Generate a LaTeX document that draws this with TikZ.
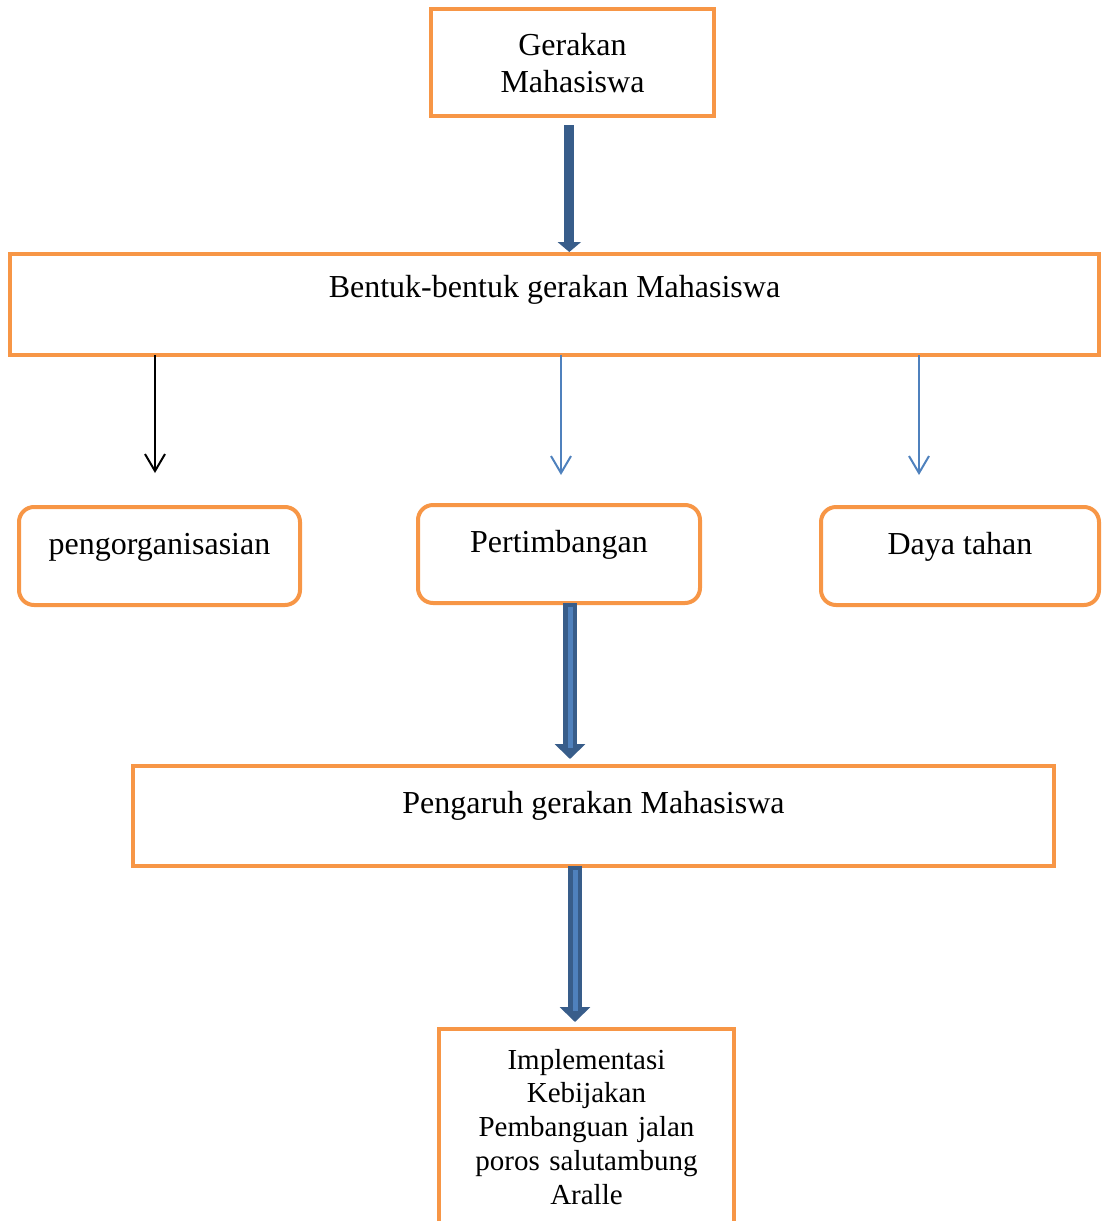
\documentclass[tikz,border=0pt]{standalone}
\usepackage{fontspec}
\setmainfont{Liberation Serif}
\usetikzlibrary{arrows.meta,calc}
\definecolor{orng}{HTML}{F79646}
\definecolor{dkblue}{HTML}{385D8A}
\definecolor{ltblue}{HTML}{4F81BD}
\begin{document}
\begin{tikzpicture}[x=1pt,y=-1pt,
  box/.style={draw=orng, line width=4pt, inner sep=0pt, outer sep=0pt, anchor=north west,
    font=\fontsize{32}{37.7}\selectfont, align=center},
  rbox/.style={box, rounded corners=15pt},
  thinarrow/.style={line width=2pt, -{Straight Barb[length=17pt,width=20pt]}},
  fatarrow/.style={dkblue, line width=14.7pt, -{Triangle[length=15pt,width=30pt]}},
  stripe/.style={ltblue, line width=5pt}]
\useasboundingbox (0,0) rectangle (1101,1221);

\node[box, text width=283pt, text height=46pt, text depth=61pt] (gm) at (431,9) {Gerakan\\Mahasiswa};
\node[box, minimum width=1089pt, text height=43pt, text depth=58pt] (bentuk) at (10,254) {Bentuk-bentuk gerakan Mahasiswa};
\node[rbox, minimum width=281pt, text height=47pt, text depth=51pt] (org) at (19,507) {pengorganisasian};
\node[rbox, minimum width=282pt, text height=47pt, text depth=51pt] (pert) at (418,505) {Pertimbangan};
\node[rbox, minimum width=278pt, text height=47pt, text depth=51pt] (daya) at (821,507) {Daya tahan};
\node[box, minimum width=921pt, text height=47pt, text depth=53pt] (pengaruh) at (133,766) {Pengaruh gerakan Mahasiswa};
\node[box, text width=295pt, text height=40pt, text depth=171pt,
  font=\fontsize{29}{33.75}\selectfont] (impl) at (439,1029)
  {Implementasi\\Kebijakan\\Pembanguan jalan\\poros salutambung\\Aralle};

% top arrow
\coordinate (x1) at (569.3,0);
\draw[dkblue, line width=10pt, -{Triangle[length=10pt,width=23pt]}]
  ($(gm.south -| x1)+(0,9)$) -- ($(bentuk.north -| x1)+(0,-2)$);

% thin arrows
\coordinate (t1) at (155,473);
\coordinate (t2) at (561,475);
\coordinate (t3) at (919,475);
\draw[thinarrow, black] (bentuk.south -| t1) -- (t1);
\draw[thinarrow, ltblue] (bentuk.south -| t2) -- (t2);
\draw[thinarrow, ltblue] (bentuk.south -| t3) -- (t3);

% fat arrows
\coordinate (x2) at (570,0);
\draw[fatarrow] (pert.south -| x2) -- ($(pengaruh.north -| x2)+(0,-7)$);
\draw[stripe] ($(pert.south -| x2)+(0,4)$) -- ($(pengaruh.north -| x2)+(0,-18)$);

\coordinate (x3) at (575,0);
\draw[fatarrow] (pengaruh.south -| x3) -- ($(impl.north -| x3)+(0,-7)$);
\draw[stripe] ($(pengaruh.south -| x3)+(0,4)$) -- ($(impl.north -| x3)+(0,-18)$);
\end{tikzpicture}
\end{document}
